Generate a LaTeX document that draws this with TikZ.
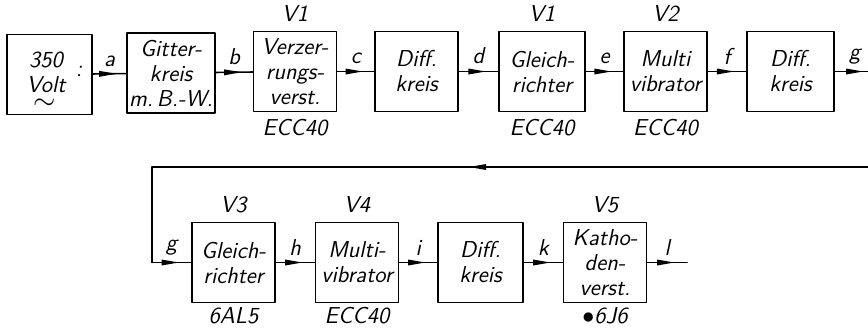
\documentclass[tikz,border=0pt]{standalone}
\usetikzlibrary{positioning,decorations.markings}
\begin{document}
\begin{tikzpicture}[x=0.5pt,y=-0.5pt,line cap=round,line join=round,
  font=\sffamily\itshape\fontsize{11.5}{12.5}\selectfont,
  blk/.style={draw,line width=0.8pt,minimum width=41.5pt,minimum height=40pt,inner sep=1pt,align=center},
  flow/.style={line width=0.8pt,postaction={decorate},
    decoration={markings,mark=at position #1 with {\fill (2.5pt,0pt) -- (-6pt,1.5pt) -- (-6pt,-1.5pt) -- cycle;}}},
  flow/.default=0.55]
\useasboundingbox (0,0) rectangle (868,329);

% upper row
\node[blk,minimum width=42.5pt] (volt) at (49.5,74.5) {};
\node[align=center,inner sep=0pt] (voltxt) at (46,72) {350\\Volt};
\node[inner sep=0pt] (ac) at (45,104) {\Large$\sim$};
\node at (79,71) {:};
\node[blk] (gitter) at (171,73) {Gitter-\\kreis\\m.\,B.-W.};
\node[blk] (verz) at (295,71.5) {Verzer-\\rungs-\\verst.};
\node[blk] (diffa) at (416.5,71.5) {Diff.\\kreis};
\node[blk,minimum width=43pt] (gla) at (542,71.5) {Gleich-\\richter};
\node[blk] (multia) at (665.5,71.5) {Multi\\vibrator};
\node[blk,minimum width=43.5pt] (diffb) at (790.5,71.5) {Diff.\\kreis};
\coordinate (gout) at (868,71.5);

\node[above=1pt of verz] {V1};
\node[above=1pt of gla] {V1};
\node[above=1pt of multia] {V2};
\node[below=0pt of verz] {ECC40};
\node[below=0pt of gla] {ECC40};
\node[below=0pt of multia] {ECC40};

\draw[flow] (volt) -- node[above] {a} (gitter);
\draw[flow] (gitter) -- node[above] {b} (verz);
\draw[flow] (verz) -- node[above] {c} (diffa);
\draw[flow] (diffa) -- node[above] {d} (gla);
\draw[flow] (gla) -- node[above] {e} (multia);
\draw[flow] (multia) -- node[above] {f} (diffb);
\draw[flow=0.7] (diffb) -- node[above,pos=0.6] {g} (gout);

% return line
\coordinate (fbR) at (868,167);
\coordinate (fbL) at (152,167);
\coordinate (fbD) at (152,262.5);
\draw[flow=0.55] (fbR) -- (fbL);
\draw[line width=0.8pt] (fbL) -- (fbD);

% lower row
\node[blk] (glb) at (233.5,262.5) {Gleich-\\richter};
\node[blk] (multib) at (357,262.5) {Multi-\\vibrator};
\node[blk,minimum width=42.5pt] (diffc) at (480.5,262.5) {Diff.\\kreis};
\node[blk] (katho) at (605,262.5) {Katho-\\den-\\verst.};
\coordinate (lout) at (687,262.5);

\node[above=1pt of glb] {V3};
\node[above=1pt of multib] {V4};
\node[above=1pt of katho] {V5};
\node[below=-1.5pt of glb] {6AL5};
\node[below=-1.5pt of multib] {ECC40};
\node[below=-1.5pt of katho] {$\bullet$6J6};

\draw[flow] (fbD) -- node[above] {g} (glb);
\draw[flow] (glb) -- node[above] {h} (multib);
\draw[flow] (multib) -- node[above] {i} (diffc);
\draw[flow] (diffc) -- node[above] {k} (katho);
\draw[flow] (katho) -- node[above] {l} (lout);
\end{tikzpicture}
\end{document}
